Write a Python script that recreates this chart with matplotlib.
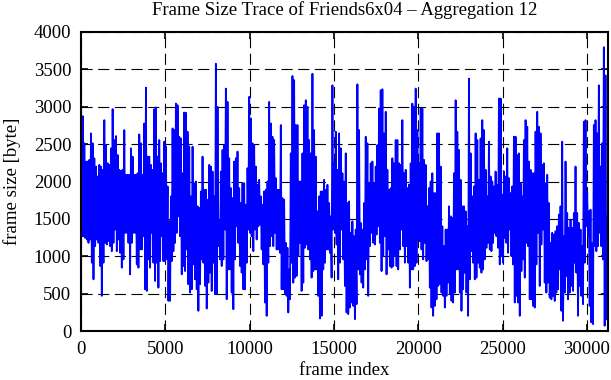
import numpy as np
import matplotlib
matplotlib.use("Agg")
from matplotlib import pyplot as plt

# frame sizes, alternating upper / lower swing per ~100 frames
block1 = [2954, 1268, 2874, 1268, 2511, 1246, 2267, 1224, 2267, 1179, 2289, 1224,
          2644, 913, 2511, 691, 2311, 1135, 2200, 1224, 2067, 1179, 2222, 869,
          2200, 470, 2156, 913, 2821, 1179, 2488, 1157, 2244, 1202, 2222, 1135,
          2444, 1068, 2968, 1179, 2555, 1357, 2608, 1068, 2355, 1224, 2156, 1046,
          2142, 847, 2156, 958, 2688, 1313, 2089, 1313, 2089, 1179, 2089, 758,
          2444, 1179, 2333, 1313, 2089, 1313, 2089, 891, 2111, 847, 2630, 1091,
          2511, 1091, 2089, 1268, 2777, 558, 3256, 536, 2333, 958, 2333, 847,
          2222, 1313, 2156, 913, 2968, 669, 2990, 913, 2333, 580, 2555, 935,
          2244, 1268, 2111, 935]
block2 = [2533, 935, 2466, 958, 1934, 403, 1468, 403, 1801, 935, 2710, 1068,
          2688, 1179, 3043, 1313, 3021, 1534, 2599, 1268, 2577, 758, 2111, 869,
          2923, 802, 2919, 1091, 2666, 625, 2466, 514, 1801, 558, 2466, 891,
          1978, 691, 2000, 558, 1668, 270, 1645, 625, 1867, 958, 2333, 913,
          1889, 603, 1889, 301, 1756, 647, 2222, 780, 2200, 536, 2133, 913,
          1801, 492, 3575, 492, 2999, 1135, 1468, 958, 2133, 869, 2422, 958,
          2488, 1357, 3243, 425, 3065, 824, 2311, 824, 1912, 514, 1779, 292,
          2267, 958, 2311, 1401, 2400, 1179, 1912, 869, 1712, 780, 1978, 558,
          1978, 558, 1690, 913, 2178, 1357]
block3 = [3132, 1313, 2843, 1268, 2511, 1068, 2488, 1357, 2200, 1224, 1956, 1401,
          2022, 1423, 1801, 1091, 1690, 891, 1867, 381, 1889, 203, 2000, 913,
          3065, 1135, 2777, 1268, 2599, 1135, 2555, 1313, 2045, 1091, 1889, 1091,
          1889, 1046, 2755, 558, 1779, 558, 1756, 492, 1179, 470, 1113, 248,
          824, 425, 2377, 913, 3411, 647, 3354, 714, 2755, 736, 2755, 1002,
          2000, 1179, 2000, 536, 2377, 647, 3021, 1113, 3087, 1157, 2999, 1091,
          2555, 958, 2377, 714, 3442, 802, 2688, 824, 2333, 824, 1601, 470,
          1801, 168, 1867, 203, 1867, 824, 2022, 913, 1889, 1091, 1956, 1091,
          1712, 1046, 1534, 714, 3287, 1357]
block4 = [2244, 1313, 2666, 1157, 2156, 691, 2644, 913, 2444, 1357, 2111, 958,
          2000, 603, 2377, 248, 1712, 226, 1734, 314, 1313, 381, 1468, 336,
          1268, 159, 1357, 359, 3300, 824, 2688, 758, 1446, 647, 1357, 580,
          1712, 824, 2599, 958, 2511, 470, 1978, 1135, 2244, 1313, 2267, 1179,
          1978, 1157, 2200, 1290, 2488, 1401, 2976, 1179, 3220, 802, 3234, 1002,
          2644, 1268, 2932, 758, 2156, 1091, 1889, 869, 1912, 847, 2311, 869,
          2244, 1002, 2555, 869, 2555, 824, 2244, 1091, 2222, 1357, 2821, 1135,
          2111, 913, 2156, 1135, 1912, 913, 1956, 580, 2244, 824, 3043, 824,
          2999, 869, 3243, 913, 2688, 1224]
block5 = [2244, 1202, 2976, 1091, 2976, 958, 2289, 1179, 2222, 935, 1668, 958,
          1912, 580, 2000, 314, 2111, 203, 1845, 336, 1845, 425, 2644, 603,
          2644, 625, 2200, 514, 1401, 470, 1135, 314, 1357, 470, 1357, 647,
          1668, 492, 1534, 403, 1512, 381, 2111, 514, 3087, 824, 2666, 824,
          2422, 514, 2022, 270, 1668, 558, 1668, 780, 1601, 514, 1401, 203,
          3376, 691, 2377, 1068, 1801, 913, 1934, 691, 2644, 714, 2555, 913,
          2022, 847, 2577, 780, 2821, 824, 2688, 958, 2156, 1113, 1801, 1179,
          2533, 1091, 2067, 1068, 2000, 1179, 1934, 1313, 2133, 1268, 1956, 1113,
          3110, 891, 3110, 1002, 1823, 913]
block6 = [2133, 1246, 2067, 1179, 2444, 1046, 2045, 1357, 1845, 1002, 1934, 891,
          2599, 381, 2599, 470, 2355, 381, 2377, 203, 1978, 802, 1801, 958,
          2555, 714, 2821, 1179, 2732, 1135, 2267, 425, 2156, 425, 2111, 336,
          2111, 314, 2666, 891, 2932, 1313, 2732, 603, 2644, 1157, 2222, 1357,
          2244, 647, 1978, 514, 2089, 647, 1712, 447, 1179, 425, 1313, 470,
          1290, 403, 1335, 514, 1401, 558, 1557, 824, 1668, 270, 2533, 137,
          1268, 514, 2267, 736, 1579, 425, 1379, 514, 1490, 603, 1379, 536,
          1579, 913, 2200, 780, 1579, 203, 1446, 603, 1357, 470, 1135, 359,
          2799, 913, 2821, 1401, 1845, 1268, 1601, 336, 1623, 115, 1179, 92,
          2755, 1135, 2821, 1068, 2644, 1135, 3287, 1313, 2200, 1135, 2511, 958,
          3797, 70, 3420, 159, 1534, 48]

frame_size = np.array(block1 + block2 + block3 + block4 + block5 + block6)
last_frame = 31250
frame_index = np.linspace(0, last_frame, len(frame_size))

plt.rcParams['font.family'] = ['Liberation Serif', 'DejaVu Serif']
plt.rcParams['font.size'] = 13.5

fig = plt.figure(figsize=(6.11, 3.80), dpi=100)
ax = fig.add_axes([81 / 611, 49 / 380, 527 / 611, 299 / 380])
ax.plot(frame_index, frame_size, color='#0000ff', lw=1.3)

ax.set_xlim(0, last_frame)
ax.set_ylim(0, 4000)
ax.set_xticks(np.arange(0, 30001, 5000))
ax.set_yticks(np.arange(0, 4001, 500))
ax.grid(True, color='black', linestyle=(0, (10, 5)), linewidth=0.8)
ax.tick_params(direction='in', top=True, right=True, length=5, width=1.2, pad=7)
for s in ax.spines.values():
    s.set_linewidth(1.5)

ax.set_title('Frame Size Trace of Friends6x04 \u2013 Aggregation 12', fontsize=13.5, pad=12)
ax.set_xlabel('frame index', labelpad=3)
ax.set_ylabel('frame size [byte]', labelpad=9)

fig.savefig('out.png', dpi=100)
